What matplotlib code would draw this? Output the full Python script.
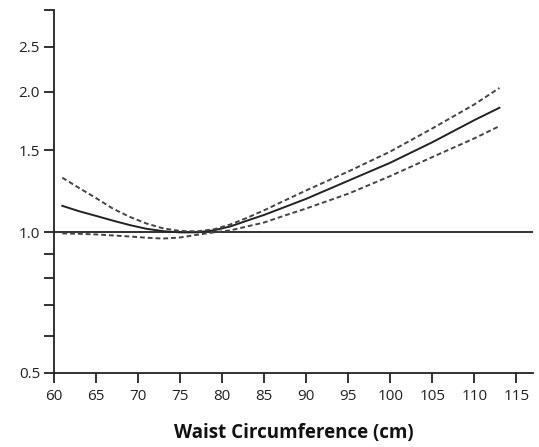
import matplotlib.pyplot as plt
from matplotlib.ticker import FixedLocator, FixedFormatter, NullFormatter

# waist circumference (cm)
waist = [61, 63, 65, 67, 69, 71, 73, 75, 77, 79, 81, 83, 85, 87, 90, 95, 100, 105, 110, 113]
# hazard ratio estimate and 95% CI
hr = [1.14, 1.11, 1.085, 1.06, 1.037, 1.018, 1.006, 1.0, 1.0, 1.01, 1.03, 1.06,
      1.09, 1.125, 1.18, 1.29, 1.41, 1.56, 1.74, 1.85]
hr_upper = [1.31, 1.245, 1.185, 1.125, 1.08, 1.045, 1.02, 1.007, 1.005, 1.015, 1.04,
            1.075, 1.115, 1.16, 1.23, 1.35, 1.49, 1.67, 1.88, 2.04]
hr_lower = [0.995, 0.993, 0.99, 0.985, 0.98, 0.974, 0.97, 0.975, 0.988, 1.0, 1.01,
            1.03, 1.05, 1.08, 1.125, 1.21, 1.32, 1.45, 1.59, 1.69]

xticks = [60, 65, 70, 75, 80, 85, 90, 95, 100, 105, 110, 115]
yticks = [0.5, 1.0, 1.5, 2.0, 2.5]
yticklabels = ["0.5", "1.0", "1.5", "2.0", "2.5"]
yminor = [0.6, 0.7, 0.8, 0.9, 3.0]

plt.rcParams['font.family'] = ['Open Sans', 'DejaVu Sans']

fig = plt.figure(figsize=(5.39, 4.47), dpi=100)
ax = fig.add_axes([0.1, 0.166, 0.889, 0.812])

ax.axhline(1.0, color='#222222', lw=1.3, zorder=1)
ax.plot(waist, hr, color='#222222', lw=1.4)
ax.plot(waist, hr_upper, color='#444444', lw=1.4, linestyle=(0, (2.5, 1.5)))
ax.plot(waist, hr_lower, color='#444444', lw=1.4, linestyle=(0, (2.5, 1.5)))

ax.set_yscale('log')
ax.set_ylim(0.5, 3.0)
ax.set_xlim(60, 117)

ax.yaxis.set_major_locator(FixedLocator(yticks))
ax.yaxis.set_major_formatter(FixedFormatter(yticklabels))
ax.yaxis.set_minor_locator(FixedLocator(yminor))
ax.yaxis.set_minor_formatter(NullFormatter())
ax.set_xticks(xticks)

for s in ['top', 'right']:
    ax.spines[s].set_visible(False)
for s in ['left', 'bottom']:
    ax.spines[s].set_linewidth(1.3)
    ax.spines[s].set_color('#222222')

ax.tick_params(axis='both', which='both', direction='out', length=7, width=1.3,
               color='#222222', labelsize=11, labelcolor='#222222', pad=3)
ax.tick_params(axis='x', pad=5)

ax.set_xlabel('Waist Circumference (cm)', fontsize=13.5, fontweight='bold',
              color='#111111', labelpad=13)

fig.savefig('out.png', dpi=100)
